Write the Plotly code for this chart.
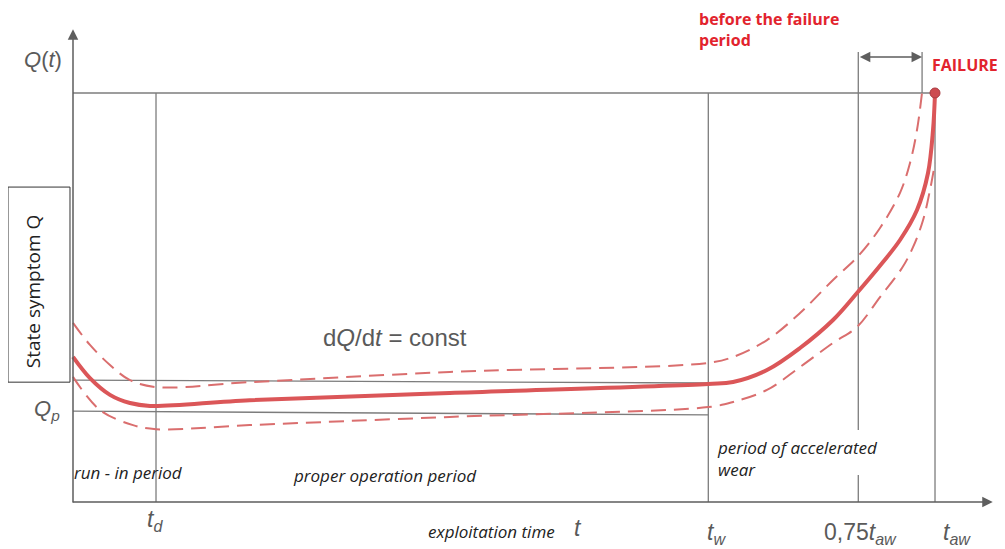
import plotly.graph_objects as go

# ---------------- data (time t in % of t_aw, state symptom Q in % of failure level) ----------------
main_t = [0, 1.97, 4.29, 6.61, 8.93, 20.5, 43.7, 73.67, 76.57, 80.51, 84.34, 88.17, 90.95, 93.97, 95.94, 97.91, 99.19, 99.77, 100]
main_q = [35.5, 30.3, 26.2, 24.2, 23.5, 24.9, 26.65, 28.85, 29.34, 32.27, 37.65, 44.5, 51.1, 58.68, 64.06, 71.39, 80.44, 90.95, 100]

upper_t = [0, 1.97, 4.29, 6.61, 9.63, 20.5, 43.7, 73.67, 76.57, 80.51, 84.34, 88.17, 91.07, 93.62, 95.94, 97.1, 97.91, 98.49]
upper_q = [43.8, 38.4, 33.5, 29.8, 28.1, 29.3, 31.8, 34.0, 35.45, 39.6, 46.2, 54.3, 60.1, 67.0, 75.6, 82.9, 90.95, 100]

lower_t = [0, 3.13, 6.96, 9.63, 20.5, 43.7, 73.67, 76.57, 80.51, 84.34, 88.17, 90.95, 93.62, 96.17, 97.45, 98.61, 99.42, 100]
lower_q = [30.6, 22.5, 18.8, 17.8, 18.8, 20.8, 23.2, 24.45, 27.4, 33.0, 38.9, 42.8, 50.1, 57.2, 62.3, 68.9, 76.3, 82.9]

failure_t = [100]
failure_q = [100]

tick_vals = [9.63, 73.7, 91.1, 100]
tick_labels = ["<i>t</i><sub><i>d</i></sub>", "<i>t</i><sub><i>w</i></sub>",
               "0,75<i>t</i><sub><i>aw</i></sub>", "<i>t</i><sub><i>aw</i></sub>"]

q_p = 22.2          # Q_p reference level
q_band = 29.8       # upper reference level
q_fail = 100        # failure level
t_d, t_w, t_075, t_aw = tick_vals
t_bracket_end = 98.5

# ---------------- styles ----------------
RED = "rgb(219,86,88)"
RED_D = "rgb(218,110,110)"
GRAY = "#7c7c7c"
AX = "#5e5e5e"
TXT = "#5a5a5a"
SPL = dict(shape="spline", smoothing=1.0)

fig = go.Figure()

fig.add_trace(go.Scatter(x=upper_t, y=upper_q, mode="lines",
                         line=dict(color=RED_D, width=2, dash="15px,8px", **SPL), hoverinfo="skip"))
fig.add_trace(go.Scatter(x=lower_t, y=lower_q, mode="lines",
                         line=dict(color=RED_D, width=2, dash="15px,8px", **SPL), hoverinfo="skip"))
fig.add_trace(go.Scatter(x=main_t, y=main_q, mode="lines",
                         line=dict(color=RED, width=4, **SPL), hoverinfo="skip"))
fig.add_trace(go.Scatter(x=failure_t, y=failure_q, mode="markers",
                         marker=dict(color="rgb(205,75,80)", size=10, line=dict(color="rgb(170,60,65)", width=1)),
                         hoverinfo="skip"))

shapes = []
def seg(x0, y0, x1, y1, color=GRAY, width=1.3):
    shapes.append(dict(type="line", xref="x", yref="y", x0=x0, y0=y0, x1=x1, y1=y1,
                       line=dict(color=color, width=width), layer="below"))

seg(0, q_fail, t_aw - 0.3, q_fail)          # failure level line
seg(0, q_band, t_w, q_band - 0.7)           # upper band
seg(0, q_p, t_w, q_p - 0.9)                 # Q_p
seg(t_d, 0, t_d, q_fail)
seg(t_w, 0, t_w, q_fail)
seg(t_075, 0, t_075, 6.6)
seg(t_075, 17.6, t_075, 110)
seg(t_aw, 0, t_aw, q_fail)
seg(t_bracket_end, q_fail, t_bracket_end, 110)
# state symptom box
shapes.append(dict(type="rect", xref="x", yref="y", x0=-7.54, x1=-0.35, y0=29.3, y1=77.0,
                   line=dict(color="#333", width=1), fillcolor="white", layer="above"))

ann = []
def arrow(x, y, ax, ay, side="end"):
    ann.append(dict(x=x, y=y, ax=ax, ay=ay, xref="x", yref="y", axref="x", ayref="y",
                    text="", showarrow=True, arrowhead=2, arrowsize=1.4, arrowwidth=1.5,
                    arrowcolor=AX, arrowside=side))

arrow(0, 115.6, 0, -0.5)                    # Q axis
arrow(106.7, 0, -0.2, 0)                    # t axis
arrow(t_bracket_end, 108.8, t_075, 108.8, side="end+start")

def txt(x, y, s, size=15, color=TXT, family="Liberation Sans", **kw):
    d = dict(x=x, y=y, xref="x", yref="y", text=s, showarrow=False,
             font=dict(size=size, color=color, family=family))
    d.update(kw)
    ann.append(d)

txt(-3.48, 108.1, "<i>Q</i>(<i>t</i>)", size=22)
txt(-3.0, 22.5, "<i>Q</i><sub><i>p</i></sub>", size=22)
txt(37.35, 40.1, "d<i>Q</i>/d<i>t</i> = const", size=24)
txt(-4.64, 51.3, "State symptom Q", size=19, color="#222", family="Open Sans", textangle=-90)

IT = dict(size=17, color="#222", family="Open Sans")
txt(6.4, 7.1, "<i>run - in period</i>", **IT)
txt(36.2, 6.6, "<i>proper operation period</i>", **IT)
txt(74.5, 10.6, "<i>period of accelerated<br>wear</i>", xanchor="left", align="left", **IT)
txt(48.5, -7.1, "<i>exploitation time</i>", **IT)
txt(58.6, -6.3, "<i>t</i>", size=23, color=TXT)

label_q = [-4.6, -7.6, -7.6, -7.6]
label_dt = [-0.1, 1.0, 0.2, 2.5]
for tv, lab, lq, dt in zip(tick_vals, tick_labels, label_q, label_dt):
    txt(tv + dt, lq, lab, size=23, color=TXT)

RED_T = "rgb(226,35,45)"
txt(72.5, 115.5, "<b>before the failure<br>period</b>", size=16, color=RED_T, family="Open Sans",
    xanchor="left", align="left", borderpad=0)
txt(103.5, 106.8, "<b>FAILURE</b>", size=16, color=RED_T, family="Open Sans")

# the page body has an 8px margin, so the figure is 8px smaller and the ranges start 8px in
fig.update_layout(
    width=997, height=541, margin=dict(l=0, r=0, t=0, b=0),
    paper_bgcolor="white", plot_bgcolor="white", showlegend=False,
    xaxis=dict(range=[-7.541, 108.12], visible=False, fixedrange=True),
    yaxis=dict(range=[-11.49, 120.78], visible=False, fixedrange=True),
    shapes=shapes, annotations=ann,
)

fig.write_html("out.html")
